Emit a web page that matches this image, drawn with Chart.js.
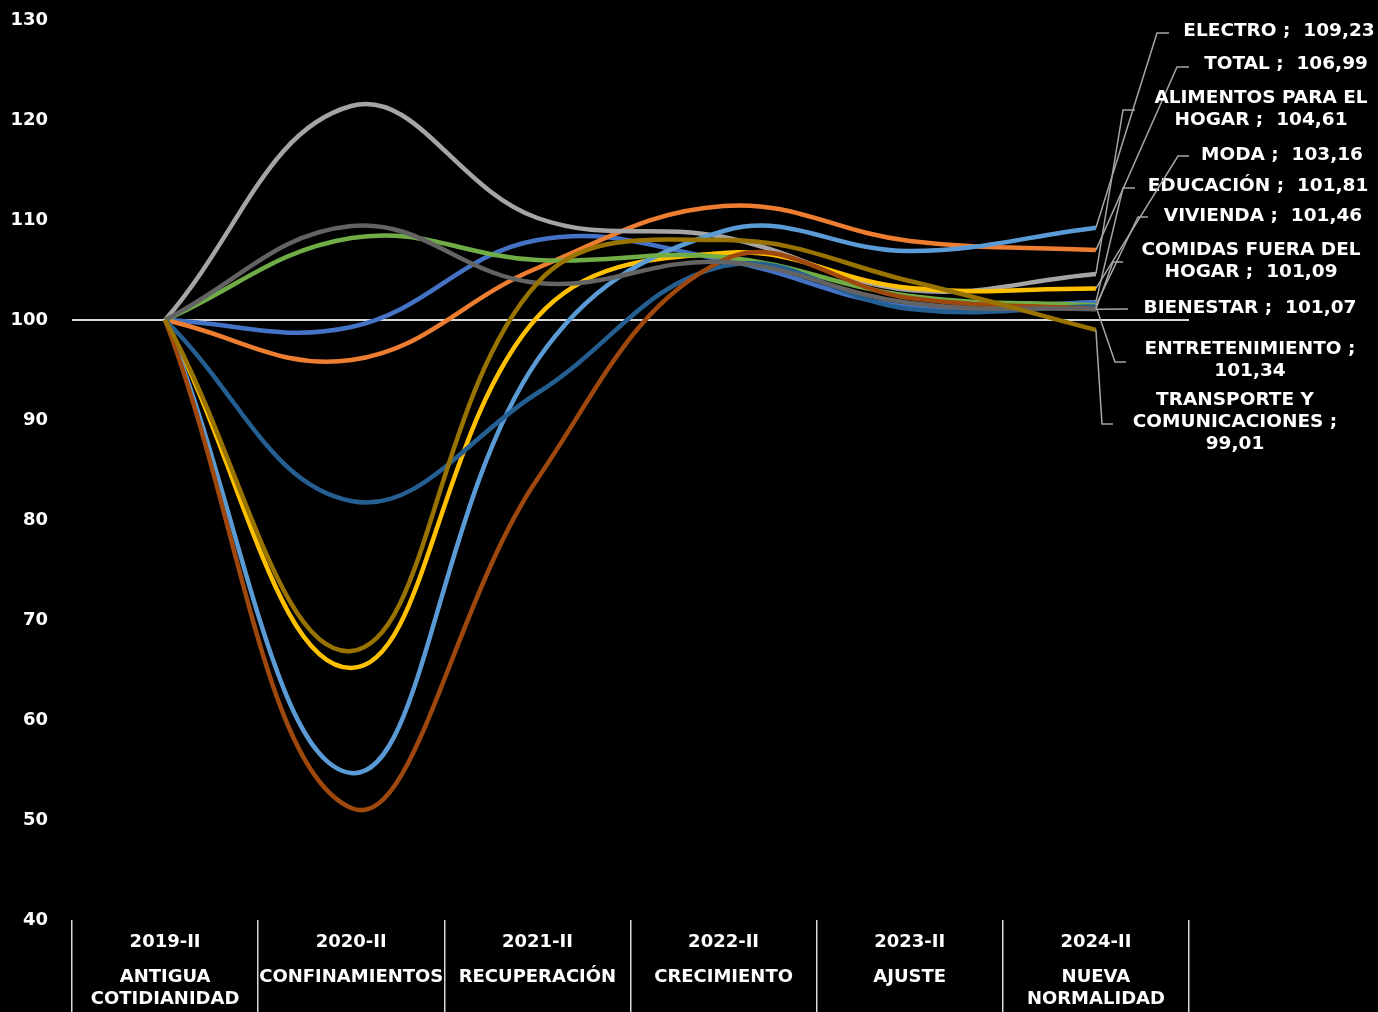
<!DOCTYPE html>
<html lang="es">
<head>
<meta charset="UTF-8">
<title>Índice por categoría 2019-II a 2024-II</title>
<script src="https://cdn.jsdelivr.net/npm/chart.js@4.4.1/dist/chart.umd.min.js"></script>
<style>
  html, body { margin: 0; padding: 0; background: #000; }
  #wrap { width: 1378px; height: 1012px; }
</style>
</head>
<body>
<div id="wrap"><canvas id="chart" width="1378" height="1012"></canvas></div>
<script>
// categorias (dos niveles)
const years = ['2019-II', '2020-II', '2021-II', '2022-II', '2023-II', '2024-II'];
const phases = [['ANTIGUA', 'COTIDIANIDAD'], ['CONFINAMIENTOS'], ['RECUPERACIÓN'], ['CRECIMIENTO'], ['AJUSTE'], ['NUEVA', 'NORMALIDAD']];

// series (base 2019-II = 100)
const seriesNames = ['EDUCACIÓN', 'TOTAL', 'ALIMENTOS PARA EL HOGAR', 'MODA', 'ELECTRO', 'VIVIENDA',
  'ENTRETENIMIENTO', 'COMIDAS FUERA DEL HOGAR', 'BIENESTAR', 'TRANSPORTE Y COMUNICACIONES'];
const educacion       = [100, 99.3, 108.0, 106.0, 101.3, 101.81];
const total           = [100, 96.0, 105.2, 111.4, 107.9, 106.99];
const alimentos       = [100, 121.4, 110.2, 108.3, 103.0, 104.61];
const moda            = [100, 65.2, 100.3, 106.7, 103.2, 103.16];
const electro         = [100, 54.7, 96.0, 108.9, 106.9, 109.23];
const vivienda        = [100, 108.2, 106.0, 106.3, 102.4, 101.46];
const entretenimiento = [100, 81.9, 92.7, 105.4, 101.1, 101.34];
const comidas         = [100, 51.2, 84.1, 106.0, 102.2, 101.09];
const bienestar       = [100, 109.4, 103.7, 105.8, 101.7, 101.07];
const transporte      = [100, 66.9, 103.7, 108.0, 103.9, 99.01];
const seriesValues = [educacion, total, alimentos, moda, electro, vivienda, entretenimiento, comidas, bienestar, transporte];

const yMin = 40, yMax = 130, yStep = 10, baseLine = 100;

// estilo
const colors = ['#4472C4', '#ED7D31', '#A5A5A5', '#FFC000', '#5B9BD5', '#70AD47', '#255E91', '#9E480E', '#636363', '#997300'];
const FONT = '"DejaVu Sans", "Open Sans", sans-serif';

// posicion de las etiquetas de la derecha (centro de la 1a linea, codo y fin de la linea guia)
const labelLayout = {
  'ELECTRO':                     { cx: 1279, cy: 31,  elbow: [1157, 33],  end: [1169, 33] },
  'TOTAL':                       { cx: 1286, cy: 64,  elbow: [1177, 67],  end: [1189, 67] },
  'ALIMENTOS PARA EL HOGAR':     { cx: 1261, cy: 98,  elbow: [1123, 110], end: [1135, 110] },
  'MODA':                        { cx: 1282, cy: 155, elbow: [1178, 156], end: [1189, 156] },
  'EDUCACIÓN':                   { cx: 1258, cy: 186, elbow: [1123, 188], end: [1135, 188] },
  'VIVIENDA':                    { cx: 1263, cy: 216, elbow: [1138, 217], end: [1148, 217] },
  'COMIDAS FUERA DEL HOGAR':     { cx: 1251, cy: 250, elbow: [1113, 262], end: [1123, 262] },
  'BIENESTAR':                   { cx: 1250, cy: 308, elbow: null,        end: [1128, 309] },
  'ENTRETENIMIENTO':             { cx: 1250, cy: 349, elbow: [1115, 362], end: [1126, 362] },
  'TRANSPORTE Y COMUNICACIONES': { cx: 1235, cy: 400, elbow: [1102, 424], end: [1113, 424] }
};

function fmt(v) { return v.toFixed(2).replace('.', ','); }

function wrapLabel(ctx, name, value, maxW) {
  const tokens = name.split(' ').concat([';', fmt(value)]);
  const lines = [];
  let line = tokens[0];
  for (let i = 1; i < tokens.length; i++) {
    const sep = (i === tokens.length - 1) ? '  ' : ' ';
    const test = line + sep + tokens[i];
    if (ctx.measureText(test).width > maxW) {
      lines.push(line);
      line = tokens[i];
    } else {
      line = test;
    }
  }
  lines.push(line);
  return lines;
}

const extraText = {
  id: 'extraText',
  afterDraw(chart) {
    const ctx = chart.ctx;
    const x = chart.scales.x;
    ctx.save();
    ctx.fillStyle = '#ffffff';
    ctx.textAlign = 'center';
    ctx.textBaseline = 'middle';
    ctx.font = 'bold 18px ' + FONT;
    // etiquetas del eje x
    years.forEach((yr, i) => {
      const px = x.getPixelForTick(i);
      ctx.fillText(yr, px, 942);
      phases[i].forEach((t, j) => ctx.fillText(t, px, 977 + j * 22));
    });
    // etiquetas de la ultima serie con lineas guia
    ctx.font = 'bold 18.5px ' + FONT;
    chart.data.datasets.forEach((ds, i) => {
      const lay = labelLayout[ds.label];
      const pt = chart.getDatasetMeta(i).data[ds.data.length - 1];
      ctx.strokeStyle = '#A6A6A6';
      ctx.lineWidth = 1.5;
      ctx.beginPath();
      ctx.moveTo(pt.x, pt.y);
      if (lay.elbow) ctx.lineTo(lay.elbow[0], lay.elbow[1]);
      ctx.lineTo(lay.end[0], lay.end[1]);
      ctx.stroke();
      const lines = wrapLabel(ctx, ds.label, ds.data[ds.data.length - 1], 245);
      lines.forEach((l, j) => ctx.fillText(l, lay.cx, lay.cy + j * 22));
    });
    ctx.restore();
  }
};

const datasets = seriesNames.map((name, i) => ({
  label: name,
  data: seriesValues[i],
  borderColor: colors[i],
  backgroundColor: colors[i],
  borderWidth: 4.5,
  pointRadius: 0,
  tension: 0.4,
  fill: false,
  order: -i
}));

new Chart(document.getElementById('chart'), {
  type: 'line',
  data: { labels: years, datasets: datasets },
  plugins: [extraText],
  options: {
    responsive: false,
    animation: false,
    layout: { padding: { top: 20, right: 189, bottom: 0, left: 0 } },
    plugins: { legend: { display: false }, tooltip: { enabled: false } },
    scales: {
      x: {
        offset: true,
        border: { display: false },
        grid: { offset: true, drawOnChartArea: false, drawTicks: true, tickLength: 92, color: '#D9D9D9', lineWidth: 1.5 },
        ticks: { display: false },
        afterFit(s) { s.height = 92; }
      },
      y: {
        min: yMin, max: yMax,
        border: { display: false },
        grid: {
          drawTicks: false,
          color: c => (c.tick && c.tick.value === baseLine) ? '#D9D9D9' : 'rgba(0,0,0,0)',
          lineWidth: 2
        },
        ticks: { stepSize: yStep, color: '#ffffff', padding: 24, font: { family: FONT, size: 18, weight: 'bold' } },
        afterFit(s) { s.width = 72; s.paddingTop = 0; s.paddingBottom = 0; }
      }
    }
  }
});
</script>
</body>
</html>
